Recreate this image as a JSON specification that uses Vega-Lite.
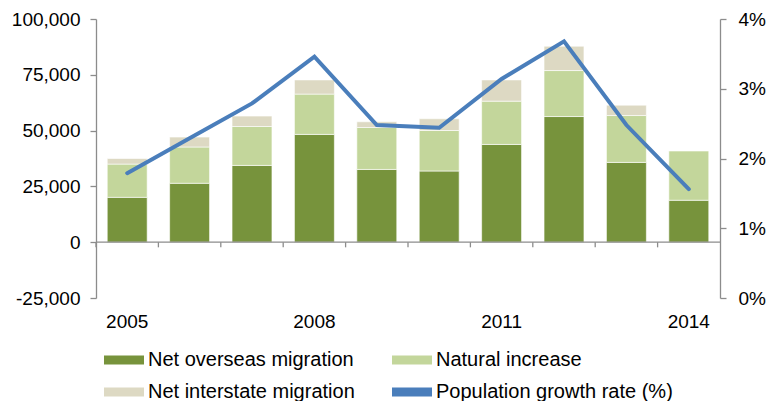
{
  "$schema": "https://vega.github.io/schema/vega-lite/v6.json",
  "width": 624,
  "height": 279,
  "autosize": {"type": "none"},
  "padding": {"left": 96, "top": 19, "right": 46, "bottom": 103},
  "config": {
    "view": {"stroke": null},
    "font": "Liberation Sans",
    "axis": {
      "grid": false,
      "labelFont": "Liberation Sans",
      "labelFontSize": 19,
      "labelColor": "#000000",
      "domainColor": "#8c8c8c",
      "tickColor": "#8c8c8c",
      "domainWidth": 1.3,
      "tickWidth": 1.3,
      "title": null
    }
  },
  "datasets": {
    "rates": [
      {"year": "2005", "rate": 1.79},
      {"year": "2006", "rate": 2.29},
      {"year": "2007", "rate": 2.79},
      {"year": "2008", "rate": 3.46},
      {"year": "2009", "rate": 2.48},
      {"year": "2010", "rate": 2.44},
      {"year": "2011", "rate": 3.14},
      {"year": "2012", "rate": 3.68},
      {"year": "2013", "rate": 2.48},
      {"year": "2014", "rate": 1.56}
    ]
  },
  "layer": [
    {
      "data": {
        "values": [
          {"year": "2005", "component": "Net overseas migration", "value": 20100},
          {"year": "2005", "component": "Natural increase", "value": 14900},
          {"year": "2005", "component": "Net interstate migration", "value": 2500},
          {"year": "2006", "component": "Net overseas migration", "value": 26400},
          {"year": "2006", "component": "Natural increase", "value": 16250},
          {"year": "2006", "component": "Net interstate migration", "value": 4450},
          {"year": "2007", "component": "Net overseas migration", "value": 34400},
          {"year": "2007", "component": "Natural increase", "value": 17450},
          {"year": "2007", "component": "Net interstate migration", "value": 4650},
          {"year": "2008", "component": "Net overseas migration", "value": 48300},
          {"year": "2008", "component": "Natural increase", "value": 18050},
          {"year": "2008", "component": "Net interstate migration", "value": 6350},
          {"year": "2009", "component": "Net overseas migration", "value": 32600},
          {"year": "2009", "component": "Natural increase", "value": 18800},
          {"year": "2009", "component": "Net interstate migration", "value": 2550},
          {"year": "2010", "component": "Net overseas migration", "value": 31900},
          {"year": "2010", "component": "Natural increase", "value": 18150},
          {"year": "2010", "component": "Net interstate migration", "value": 5250},
          {"year": "2011", "component": "Net overseas migration", "value": 43800},
          {"year": "2011", "component": "Natural increase", "value": 19400},
          {"year": "2011", "component": "Net interstate migration", "value": 9500},
          {"year": "2012", "component": "Net overseas migration", "value": 56300},
          {"year": "2012", "component": "Natural increase", "value": 20600},
          {"year": "2012", "component": "Net interstate migration", "value": 10900},
          {"year": "2013", "component": "Net overseas migration", "value": 35750},
          {"year": "2013", "component": "Natural increase", "value": 21000},
          {"year": "2013", "component": "Net interstate migration", "value": 4650},
          {"year": "2014", "component": "Net overseas migration", "value": 18800},
          {"year": "2014", "component": "Natural increase", "value": 22050}
        ]
      },
      "transform": [
        {"calculate": "indexof(['Net overseas migration','Natural increase','Net interstate migration'], datum.component)", "as": "stackOrder"}
      ],
      "mark": {"type": "bar", "stroke": "white", "strokeWidth": 0.6},
      "encoding": {
        "x": {
          "field": "year",
          "type": "ordinal",
          "scale": {"paddingInner": 0.36, "paddingOuter": 0.18},
          "axis": {
            "orient": "bottom",
            "values": ["2005", "2008", "2011", "2014"],
            "domain": false,
            "ticks": false,
            "labelAngle": 0,
            "labelPadding": 14
          }
        },
        "y": {
          "field": "value",
          "type": "quantitative",
          "stack": "zero",
          "scale": {"domain": [-25000, 100000], "nice": false},
          "axis": {
            "orient": "left",
            "values": [-25000, 0, 25000, 50000, 75000, 100000],
            "labelExpr": "replace(format(datum.value, ','), '\u2212', '-')",
            "tickSize": 6,
            "labelPadding": 10
          }
        },
        "color": {
          "field": "component",
          "type": "nominal",
          "scale": {
            "domain": ["Net overseas migration", "Natural increase", "Net interstate migration", "Population growth rate (%)"],
            "range": ["#77933c", "#c3d69b", "#ddd9c3", "#4a7ebb"]
          },
          "legend": {
            "title": null,
            "orient": "none",
            "direction": "horizontal",
            "legendX": 18,
            "legendY": 331,
            "columns": 2,
            "columnPadding": 37,
            "rowPadding": 12,
            "padding": 0,
            "symbolSize": 400,
            "symbolType": "M-2,-0.45H2V0.45H-2Z",
            "symbolStrokeWidth": 0,
            "labelFont": "Liberation Sans",
            "labelFontSize": 20,
            "labelColor": "#000000",
            "labelOffset": 14,
            "labelLimit": 400,
            "encode": {
              "symbols": {
                "update": {
                  "shape": {"signal": "datum.value == 'Population growth rate (%)' ? 'M-2,-0.2H2V0.2H-2Z' : 'M-2,-0.45H2V0.45H-2Z'"},
                  "fill": {"scale": "color", "field": "value"},
                  "stroke": {"value": "transparent"},
                  "strokeWidth": {"value": 0}
                }
              }
            }
          }
        },
        "order": {"field": "stackOrder", "type": "quantitative"}
      }
    },
    {
      "data": {"values": [{}]},
      "mark": {"type": "rule", "color": "#8c8c8c", "strokeWidth": 1.3},
      "encoding": {
        "y": {
          "datum": 0,
          "type": "quantitative",
          "scale": {"domain": [-25000, 100000], "nice": false},
          "axis": null
        }
      }
    },
    {
      "data": {"name": "rates"},
      "mark": {"type": "rule", "color": "#8c8c8c", "strokeWidth": 1.3},
      "encoding": {
        "x": {
          "field": "year",
          "type": "ordinal",
          "bandPosition": 0,
          "scale": {"paddingInner": 0, "paddingOuter": 0},
          "axis": null
        },
        "y": {
          "datum": 0,
          "type": "quantitative",
          "scale": {"domain": [-25000, 100000], "nice": false},
          "axis": null
        },
        "y2": {"datum": -2300}
      }
    },
    {
      "data": {"name": "rates"},
      "mark": {"type": "line", "strokeWidth": 4, "strokeCap": "round", "strokeJoin": "miter"},
      "encoding": {
        "x": {
          "field": "year",
          "type": "ordinal",
          "scale": {"paddingInner": 0.36, "paddingOuter": 0.18},
          "axis": null
        },
        "y": {
          "field": "rate",
          "type": "quantitative",
          "scale": {"domain": [0, 4], "nice": false},
          "axis": {
            "orient": "right",
            "values": [0, 1, 2, 3, 4],
            "labelExpr": "datum.value + '%'",
            "tickSize": 6,
            "labelPadding": 12
          }
        },
        "color": {"datum": "Population growth rate (%)"}
      }
    }
  ],
  "resolve": {"scale": {"x": "independent", "y": "independent"}}
}
